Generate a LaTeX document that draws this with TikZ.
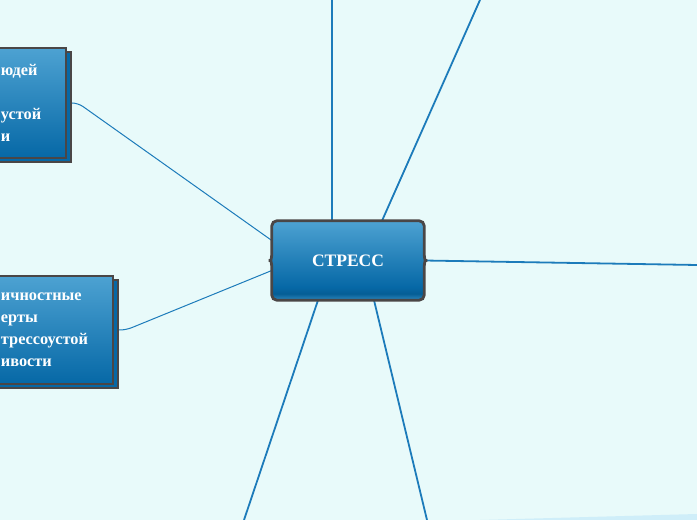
\documentclass[tikz,border=0pt]{standalone}
\usepackage{fontspec}
\setmainfont{Liberation Serif}
\usetikzlibrary{positioning,calc,shadows,backgrounds}

\definecolor{paper}{HTML}{E8FAFA}
\definecolor{linkblue}{HTML}{1C7BBA}
\definecolor{boxtop}{HTML}{4DA2D2}
\definecolor{boxbottom}{HTML}{0668A6}
\definecolor{rim}{HTML}{4A4646}
\definecolor{band}{HTML}{CFEEF9}
\pgfdeclareverticalshading{stressfill}{100bp}{color(0bp)=(boxtop!55!boxbottom); color(25bp)=(boxtop!55!boxbottom); color(29bp)=(boxbottom!90!black); color(33bp)=(boxbottom); color(75bp)=(boxtop); color(100bp)=(boxtop)}

\begin{document}
\begin{tikzpicture}[
    x=1pt, y=1pt,
    centerbox/.style={rectangle, minimum width=152pt, minimum height=79pt, shading=stressfill, rounded corners=5pt, text=white, font=\bfseries\fontsize{17.5}{20}\selectfont},
    topicbox/.style={rectangle, draw=rim, line width=2pt, top color=boxtop, bottom color=boxbottom, text=white, align=left, inner xsep=10pt, inner ysep=0pt, font=\bfseries\fontsize{16.3}{22}\selectfont, copy shadow={shadow xshift=4.5pt, shadow yshift=-4.5pt, fill=boxbottom, draw=rim, line width=2pt}},
    link/.style={draw=linkblue, line width=1.8pt},
    sublink/.style={draw=linkblue, line width=1pt, rounded corners=6pt}
]
\useasboundingbox (0,0) rectangle (697,520);
\clip (0,0) rectangle (697,520);

% Nodes
\node (stress) [centerbox] at (348,259.5) {СТРЕСС};
\node (people) [topicbox, minimum width=75pt, minimum height=110pt, text width=55pt] at (28.5,417) {юдей\\ \mbox{}\\ устой\\ и};
\node (traits) [topicbox, minimum width=122pt, minimum height=108pt, text width=102pt] at (52,190) {ичностные\\ ерты\\ трессоустой\\ ивости};

% free ends at the border
\coordinate (up) at (332,520);
\coordinate (upright) at (480,520);
\coordinate (right) at (697,255);
\coordinate (downleft) at (244,0);
\coordinate (downright) at (427,0);

\begin{scope}[on background layer]
\fill[paper] (0,0) rectangle (697,520);
\fill[band] (480,0) -- (697,6) -- (697,0) -- cycle;
% Links
\draw [link] ($(stress.north)+(-16,0)$) -- (up);
\draw [link] ($(stress.north)+(34,0)$) -- (upright);
\draw [link] (stress.east) -- (right);
\draw [link] ($(stress.south)+(-30,0)$) -- (downleft);
\draw [link] ($(stress.south)+(26,0)$) -- (downright);
\draw [sublink] (people.east) -- ++(11,0) -- ($(stress.west)+(0,20)$);
\draw [sublink] (traits.east) -- ++(12,0) -- ($(stress.west)+(0,-10)$);
\end{scope}

% rim of the centre topic
\draw [rim, line width=2.8pt, rounded corners=5pt] (stress.north west) -- (stress.north east) -- ($(stress.east)+(0,13)$)
  .. controls ($(stress.east)+(0,3)$) and ($(stress.east)+(1,0)$) .. ($(stress.east)+(6,0)$)
  .. controls ($(stress.east)+(1,0)$) and ($(stress.east)+(0,-3)$) .. ($(stress.east)+(0,-13)$)
  -- (stress.south east) -- (stress.south west) -- ($(stress.west)+(0,-13)$)
  .. controls ($(stress.west)+(0,-3)$) and ($(stress.west)+(-1,0)$) .. ($(stress.west)+(-6,0)$)
  .. controls ($(stress.west)+(-1,0)$) and ($(stress.west)+(0,3)$) .. ($(stress.west)+(0,13)$)
  -- cycle;
\end{tikzpicture}
\end{document}
